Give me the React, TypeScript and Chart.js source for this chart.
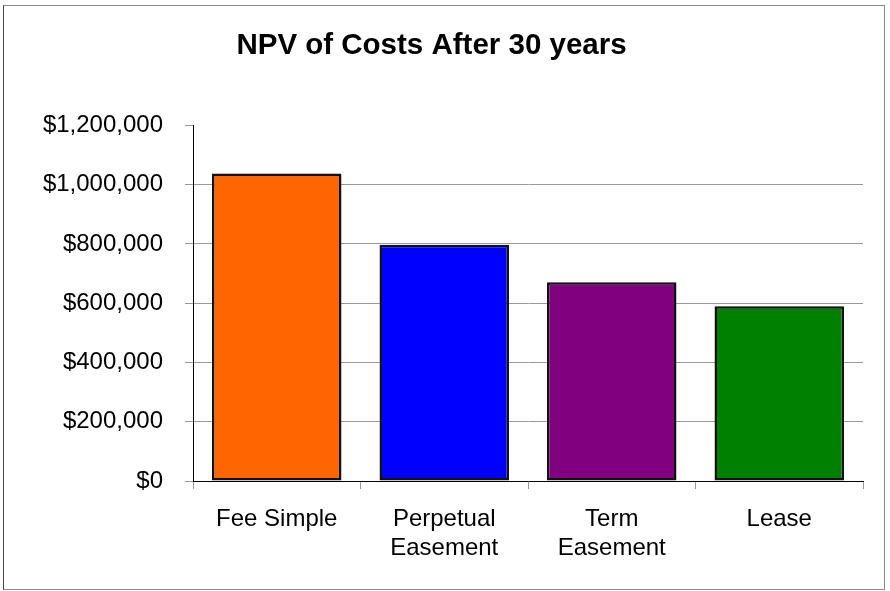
import React, { useEffect, useRef } from "react";
import { Chart, registerables } from "chart.js";

Chart.register(...registerables);

const categories: (string | string[])[] = ["Fee Simple", ["Perpetual", "Easement"], ["Term", "Easement"], "Lease"];
const npvValues = [1038000, 797000, 671000, 590000];
const barColors = ["#FF6600", "#0000FF", "#800080", "#008000"];
const yMin = 0;
const yMax = 1200000;
const yStep = 200000;
const titleText = "NPV of Costs After 30 years";

const FONT = "'Liberation Sans', Arial, Helvetica, sans-serif";

export default function App() {
  const ref = useRef<HTMLCanvasElement | null>(null);

  useEffect(() => {
    if (!ref.current) return;
    const chart = new Chart(ref.current, {
      type: "bar",
      data: {
        labels: categories,
        datasets: [
          {
            data: npvValues,
            backgroundColor: barColors,
            borderColor: "#111111",
            borderWidth: 2.5,
            borderSkipped: false,
            barPercentage: 0.773,
            categoryPercentage: 1,
          },
        ],
      },
      options: {
        animation: false,
        responsive: false,
        maintainAspectRatio: false,
        layout: { padding: { left: 0, right: 27, top: 0, bottom: 0 } },
        plugins: {
          legend: { display: false },
          tooltip: { enabled: false },
          title: {
            display: true,
            text: titleText,
            color: "#000",
            font: { family: FONT, size: 29.5, weight: "bold" },
            padding: { top: 28, bottom: 62 },
          },
        },
        scales: {
          x: {
            afterFit: (s: any) => {
              s.height = 110;
            },
            grid: {
              display: true,
              drawOnChartArea: false,
              drawTicks: true,
              tickLength: 8,
              offset: true,
              color: "#999999",
            },
            border: { display: true, color: "#000", width: 1 },
            ticks: {
              color: "#000",
              font: { family: FONT, size: 24 },
              padding: 16,
              maxRotation: 0,
              autoSkip: false,
            },
          },
          y: {
            min: yMin,
            max: yMax,
            afterFit: (s: any) => {
              s.width = 193;
            },
            grid: {
              display: true,
              drawTicks: true,
              tickLength: 8,
              color: (ctx: any) =>
                ctx.tick && (ctx.tick.value === yMax || ctx.tick.value === yMin) ? "rgba(0,0,0,0)" : "#999999",
              tickColor: "#999999",
            },
            border: { display: true, color: "#000", width: 1 },
            ticks: {
              stepSize: yStep,
              color: "#000",
              font: { family: FONT, size: 24 },
              padding: 22,
              callback: (v: any) => "$" + Number(v).toLocaleString("en-US"),
            },
          },
        },
      },
    });
    return () => chart.destroy();
  }, []);

  return (
    <div style={{ position: "absolute", left: 0, top: 0, width: 890, height: 591, background: "#fff" }}>
      <div
        style={{
          position: "absolute",
          left: 3,
          top: 5,
          width: 882,
          height: 585,
          border: "1px solid #8a8a8a",
          borderLeft: "1px solid #444",
          boxSizing: "border-box",
        }}
      />
      <canvas ref={ref} width={890} height={591} style={{ position: "absolute", left: 0, top: 0 }} />
    </div>
  );
}
